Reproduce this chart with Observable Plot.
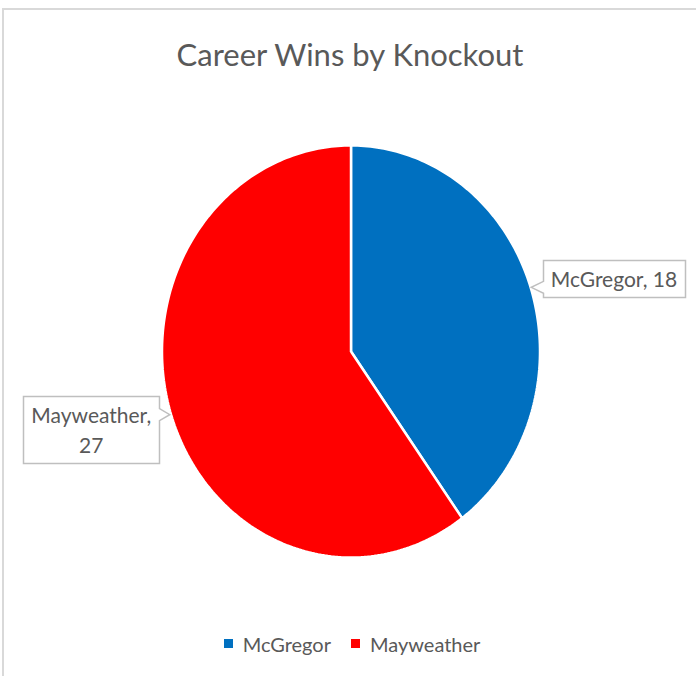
<!DOCTYPE html>
<html>
<head>
<meta charset="utf-8">
<script src="https://cdn.jsdelivr.net/npm/d3@7"></script>
<script src="https://cdn.jsdelivr.net/npm/@observablehq/plot@0.6"></script>
<style>
  html, body { margin: 0; padding: 0; background: #fff; }
  #wrap { position: relative; width: 696px; height: 676px; overflow: hidden; font-family: Lato, "Open Sans", sans-serif; }
  #frame { position: absolute; left: 2px; top: 8px; width: 800px; height: 800px; border-left: 2px solid #d9d9d9; border-top: 2px solid #d9d9d9; box-sizing: border-box; }
  #title { position: absolute; left: 0; width: 700px; top: 34px; text-align: center; font-size: 31px; color: #595959; line-height: 40px; }
  #plot { position: absolute; left: 0; top: 0; }
  #legend { position: absolute; left: 12px; width: 700px; top: 627px; display: flex; justify-content: center; }
</style>
</head>
<body>
<div id="wrap">
  <div id="frame"></div>
  <div id="plot"></div>
  <div id="title">Career Wins by Knockout</div>
  <div id="legend"></div>
</div>
<script>
const titleText = "Career Wins by Knockout";
const fighters = ["McGregor", "Mayweather"];
const koWins = [18, 27];
const sliceColors = ["#0070C0", "#FF0000"];

const rows = fighters.map((name, i) => ({name, value: koWins[i]}));
const arcs = d3.pie().sort(null).value(d => d.value)(rows);

// slice outlines in unit-circle coordinates (angle measured clockwise from 12 o'clock)
const slicePts = [];
for (const a of arcs) {
  const n = Math.max(2, Math.ceil((a.endAngle - a.startAngle) / (Math.PI / 180)));
  slicePts.push({name: a.data.name, x: 0, y: 0});
  for (let k = 0; k <= n; k++) {
    const t = a.startAngle + (a.endAngle - a.startAngle) * k / n;
    slicePts.push({name: a.data.name, x: Math.sin(t), y: Math.cos(t)});
  }
  slicePts.push({name: a.data.name, x: 0, y: 0});
}

// label anchors at slice mid-angle on the rim
const labels = arcs.map(a => {
  const m = (a.startAngle + a.endAngle) / 2;
  return {name: a.data.name, value: a.data.value, x: Math.sin(m), y: Math.cos(m),
          text: a.data.name + ", " + a.data.value};
});
const rightLabels = labels.filter(d => d.x >= 0);
const leftLabels = labels.filter(d => d.x < 0).map(d => ({...d, text: d.name + ",\n" + d.value}));

const font = "Lato, 'Open Sans', sans-serif";
const plot = Plot.plot({
  width: 696,
  height: 676,
  margin: 0,
  style: {fontFamily: font, background: "transparent", overflow: "visible"},
  x: {domain: [-1, 1], range: [161.5, 539.5], axis: null},
  y: {domain: [-1, 1], range: [557, 145], axis: null},
  color: {domain: fighters, range: sliceColors},
  marks: [
    Plot.line(slicePts, {x: "x", y: "y", z: "name", fill: "name", stroke: "white", strokeWidth: 2.5, strokeLinejoin: "miter", curve: "linear"}),
    Plot.text(rightLabels, {x: "x", y: "y", text: "text", textAnchor: "start", dx: 20, dy: -8, fontSize: 21, fill: "#595959"}),
    Plot.text(leftLabels, {x: "x", y: "y", text: "text", textAnchor: "middle", dx: -80, dy: 13, fontSize: 21, lineHeight: 1.42, fill: "#595959"})
  ]
});
document.getElementById("plot").appendChild(plot);

// draw callout boxes around data labels
(function () {
  const sx = plot.scale("x"), sy = plot.scale("y");
  const ns = "http://www.w3.org/2000/svg";
  const svgRect = plot.getBoundingClientRect();
  const texts = plot.querySelectorAll("g[aria-label='text'] text");
  const all = [...rightLabels, ...leftLabels];
  const layer = document.createElementNS(ns, "g");
  const firstText = plot.querySelector("g[aria-label='text']");
  plot.insertBefore(layer, firstText);
  texts.forEach((t, i) => {
    const d = all[i];
    const r = t.getBoundingClientRect();
    const bx = r.left - svgRect.left, by = r.top - svgRect.top;
    const tx = sx.apply(d.x), ty = sy.apply(d.y);
    const padX = 8, padY = 6;
    const x0 = Math.round(bx - padX) + 0.5, x1 = Math.round(bx + r.width + padX) + 0.5;
    const y0 = Math.round(by - padY) + 0.5, y1 = Math.round(by + r.height + padY) + 0.5;
    const h = 6;
    let p;
    if (tx < x0) {
      p = `M${x0},${y0}H${x1}V${y1}H${x0}V${ty + h}L${tx + 1},${ty}L${x0},${ty - h}Z`;
    } else {
      p = `M${x0},${y0}H${x1}V${ty - h}L${tx - 1},${ty}L${x1},${ty + h}V${y1}H${x0}Z`;
    }
    const path = document.createElementNS(ns, "path");
    path.setAttribute("d", p);
    path.setAttribute("fill", "white");
    path.setAttribute("stroke", "#bfbfbf");
    path.setAttribute("stroke-width", "1.5");
    layer.appendChild(path);
  });
})();

const legend = Plot.legend({
  legend: "swatches",
  color: {domain: fighters, range: sliceColors},
  swatchSize: 9,
  style: {fontFamily: font, fontSize: "20px", color: "#595959"}
});
document.getElementById("legend").appendChild(legend);
</script>
</body>
</html>
